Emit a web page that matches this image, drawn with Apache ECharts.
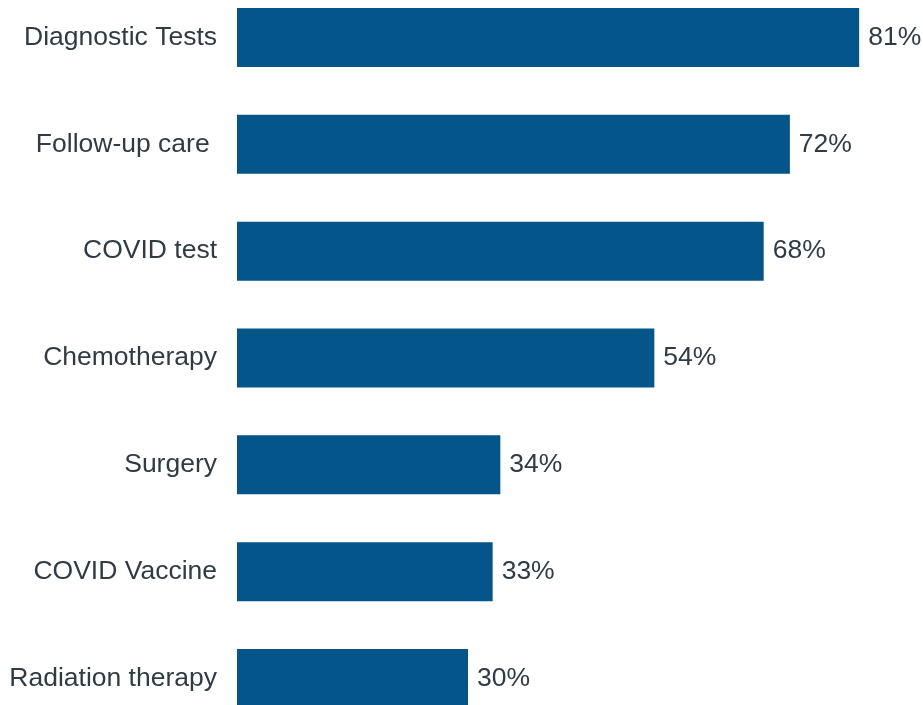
<!DOCTYPE html>
<html>
<head>
<meta charset="utf-8">
<script src="https://cdn.jsdelivr.net/npm/echarts@6/dist/echarts.min.js"></script>
<style>
  html, body { margin: 0; padding: 0; background: #fff; overflow: hidden; }
  /* plot extends a bit past the window top and bottom, as in the source */
  #chart { position: absolute; left: 0; top: -16px; width: 923px; height: 748px; }
</style>
</head>
<body>
<div id="chart"></div>
<script>
// categories top to bottom
const categories = [
  'Diagnostic Tests',
  'Follow-up care ',
  'COVID test',
  'Chemotherapy',
  'Surgery',
  'COVID Vaccine',
  'Radiation therapy',
]
// values; labels show rounded percent
const shares = [80.8, 71.8, 68.4, 54.2, 34.2, 33.2, 30.0]

const textColor = '#2f3b45'
const chart = echarts.init(document.getElementById('chart'))

chart.setOption({
  animation: false,
  grid: { left: 237, right: 31.5, top: 0, bottom: 0 },
  xAxis: {
    type: 'value',
    min: 0,
    max: 85,
    show: false,
  },
  yAxis: {
    type: 'category',
    inverse: true,
    data: categories,
    axisLine: { show: false },
    axisTick: { show: false },
    splitLine: { show: false },
    axisLabel: {
      margin: 20,
      padding: [3, 0, 0, 0],
      color: textColor,
      fontSize: 26.5,
      fontFamily: '"Liberation Sans", Arial, sans-serif',
    },
  },
  series: [
    {
      type: 'bar',
      data: shares,
      barWidth: 59,
      itemStyle: { color: '#03558a' },
      label: {
        show: true,
        position: 'right',
        distance: 9,
        padding: [3, 0, 0, 0],
        color: textColor,
        fontSize: 26.5,
        fontFamily: '"Liberation Sans", Arial, sans-serif',
        formatter: (p) => Math.round(p.value) + '%',
      },
    },
  ],
})
</script>
</body>
</html>
